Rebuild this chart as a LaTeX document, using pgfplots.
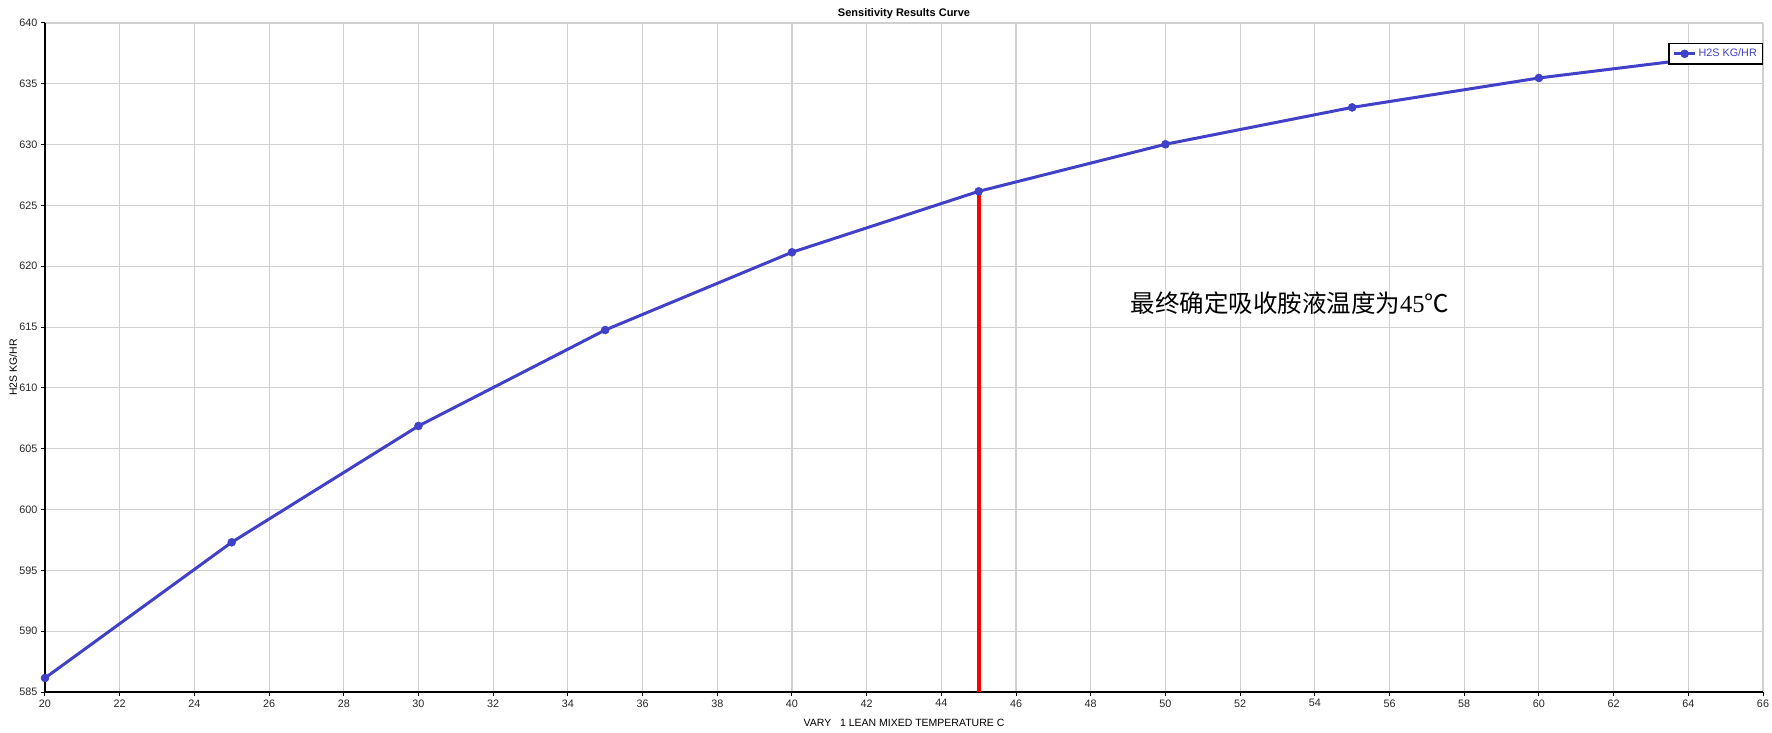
\documentclass[border=0pt]{standalone}
\usepackage{pgfplots}
\pgfplotsset{compat=1.18}
\usepackage{fontspec}
\setmainfont{Liberation Sans}
\newfontfamily\cjk{Noto Sans CJK SC}
\newfontfamily\seriffont{Liberation Serif}
\definecolor{h2s}{RGB}{64,64,200}
\definecolor{gridc}{RGB}{208,208,208}
\begin{document}
\begin{tikzpicture}[x=1pt,y=1pt]
\useasboundingbox (-45,-41) rectangle (1727,692);
\begin{axis}[
  at={(0,0)}, anchor=south west,
  scale only axis, width=1718pt, height=669pt,
  xmin=20, xmax=66, ymin=585, ymax=640,
  xtick distance=2, ytick distance=5,
  axis x line*=bottom, axis y line*=left,
  tick align=outside, major tick length=4pt,
  tick style={black, line width=1pt},
  axis line style={black, line width=1.3pt, -},
  grid=major, grid style={gridc, line width=1.1pt},
  ticklabel style={font=\fontsize{10.8}{13}\selectfont, text=black!85},
  /pgf/number format/assume math mode=true,
  clip=false,
  title={Sensitivity Results Curve},
  title style={at={(rel axis cs:0.5,1)}, anchor=center, yshift=3pt, font=\bfseries\fontsize{11}{13}\selectfont},
  xlabel={VARY\ \ \ 1 LEAN MIXED TEMPERATURE C},
  xlabel style={at={(rel axis cs:0.5,0)}, anchor=center, yshift=-31pt, font=\fontsize{10.5}{12}\selectfont},
  ylabel={H2S KG/HR},
  ylabel style={at={(rel axis cs:0,0.5)}, anchor=center, rotate=0, yshift=32pt, xshift=-10pt, font=\fontsize{10.5}{12}\selectfont},
  legend style={at={(rel axis cs:1,1)}, anchor=north east, yshift=-20pt, draw=black, line width=1.3pt,
    font=\fontsize{10.8}{13}\selectfont, text=h2s, inner sep=3.5pt, row sep=0pt},
  legend image code/.code={\draw[mark repeat=2,mark phase=2] plot coordinates {(0pt,0pt) (10.5pt,0pt) (21pt,0pt)};},
]
\addplot[h2s, line width=3pt, mark=*, mark size=4pt, mark options={fill=h2s, draw=h2s, line width=0.5pt}]
  coordinates {
  (20,586.15) (25,597.31) (30,606.87) (35,614.76) (40,621.15)
  (45,626.16) (50,630.03) (55,633.06) (60,635.48) (65,637.37)
  };
\addlegendentry{H2S KG/HR}
\addplot[red, line width=4pt, forget plot] coordinates {(45,585) (45,626.16)};
\node[anchor=center, font=\fontsize{24.5}{28}\selectfont] at (axis cs:53.33,616.98)
  {\cjk 最终确定吸收胺液温度为\seriffont 45\cjk ℃};
\end{axis}
\end{tikzpicture}
\end{document}
